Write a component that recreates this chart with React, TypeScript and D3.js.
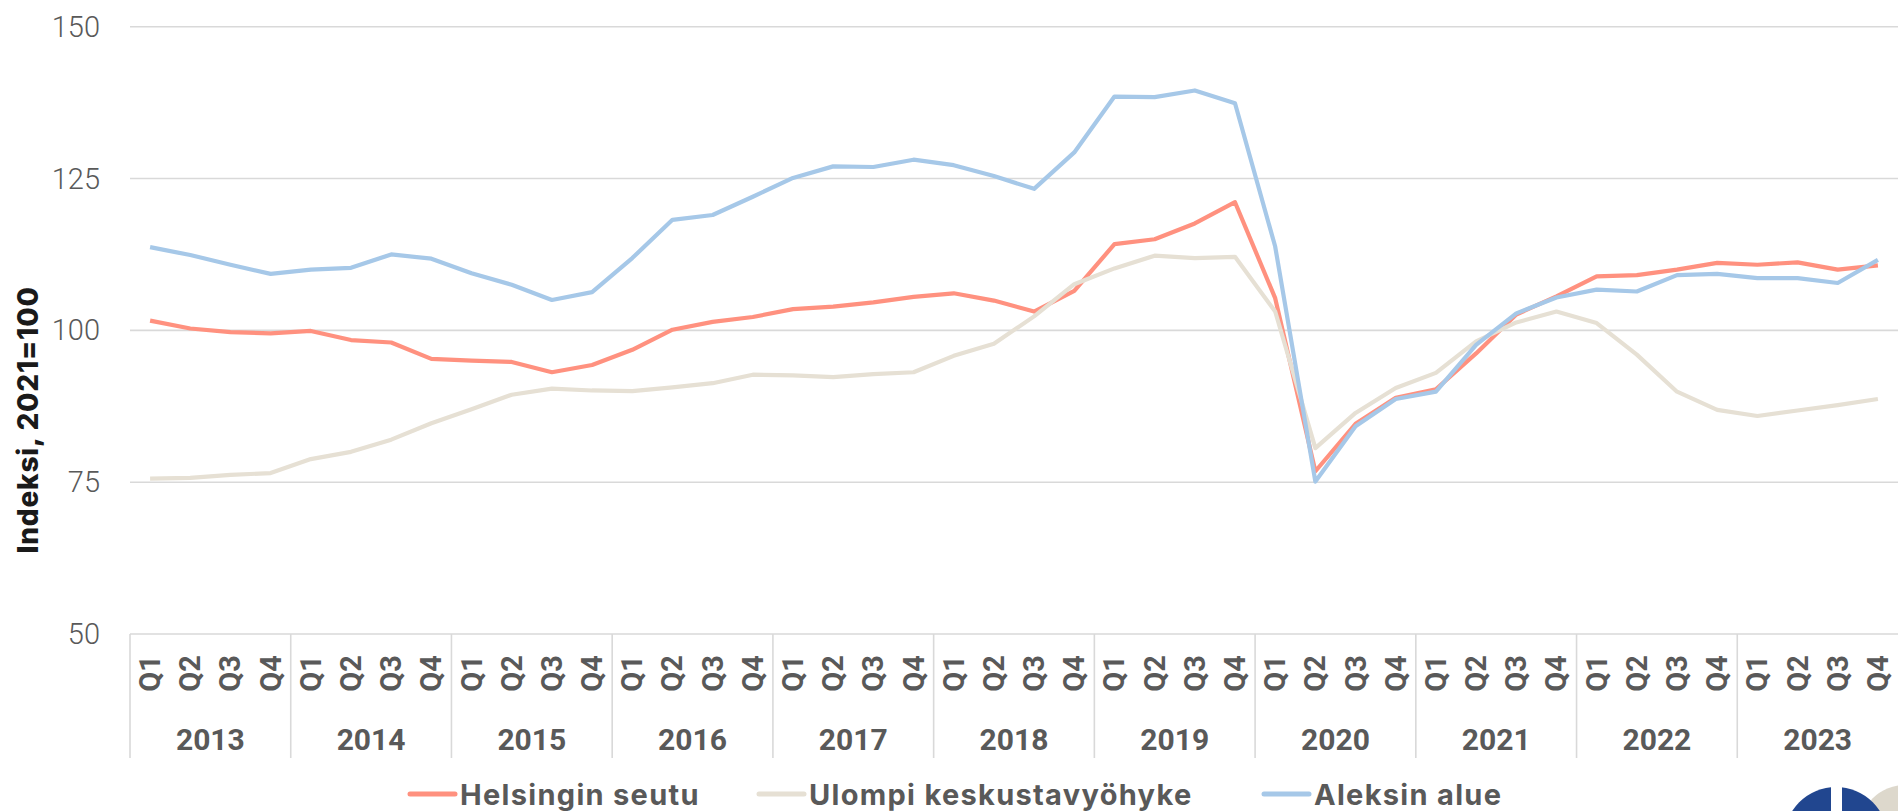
import * as d3 from "d3";

const years = ["2013", "2014", "2015", "2016", "2017", "2018", "2019", "2020", "2021", "2022", "2023"];
const quarters = ["Q1", "Q2", "Q3", "Q4"];
const yTicks = [50, 75, 100, 125, 150];

const helsinki = [
  101.6, 100.3, 99.7, 99.5, 99.9, 98.4, 98.0, 95.3, 95.0, 94.8, 93.1, 94.3,
  96.8, 100.1, 101.4, 102.2, 103.5, 103.9, 104.6, 105.5, 106.1, 104.9, 103.1, 106.5,
  114.2, 115.0, 117.6, 121.1, 105.3, 76.8, 84.6, 88.9, 90.3, 96.2, 102.6, 105.6,
  108.9, 109.1, 110.0, 111.1, 110.8, 111.2, 110.0, 110.7,
];
const ulompi = [
  75.6, 75.7, 76.2, 76.5, 78.8, 80.0, 82.0, 84.7, 87.0, 89.4, 90.4, 90.1,
  90.0, 90.6, 91.3, 92.7, 92.6, 92.3, 92.8, 93.1, 95.8, 97.8, 102.3, 107.6,
  110.2, 112.3, 111.9, 112.1, 103.1, 80.6, 86.4, 90.5, 93.0, 98.2, 101.3, 103.1,
  101.2, 96.0, 89.9, 86.9, 85.9, 86.8, 87.7, 88.7,
];
const aleksi = [
  113.7, 112.4, 110.8, 109.3, 110.0, 110.3, 112.5, 111.8, 109.4, 107.5, 105.0, 106.3,
  111.9, 118.2, 119.0, 122.0, 125.1, 127.0, 126.9, 128.1, 127.2, 125.4, 123.3, 129.3,
  138.5, 138.4, 139.5, 137.4, 113.8, 75.1, 84.2, 88.7, 89.9, 97.6, 102.8, 105.4,
  106.7, 106.4, 109.1, 109.3, 108.6, 108.6, 107.8, 111.6,
];

const series = [
  { name: "Helsingin seutu", values: helsinki, color: "#FF917F" },
  { name: "Ulompi keskustavyöhyke", values: ulompi, color: "#E6E0D4" },
  { name: "Aleksin alue", values: aleksi, color: "#A6C8E8" },
];

const W = 1898;
const H = 811;
const LEFT = 130;
const RIGHT = 1898;
const TOP = 26.7;
const BOTTOM = 634;

const periods = years.flatMap((y) => quarters.map((q) => `${y}-${q}`));

const x = d3.scaleBand<string>().domain(periods).range([LEFT, RIGHT]).padding(0);
const xYear = d3.scaleBand<string>().domain(years).range([LEFT, RIGHT]).padding(0);
const y = d3.scaleLinear().domain([50, 150]).range([BOTTOM, TOP]);

const line = d3
  .line<number>()
  .x((_, i) => (x(periods[i]) ?? 0) + x.bandwidth() / 2)
  .y((d) => y(d));

const grey = "#595959";
const legendX = [408, 757, 1262];

export default function App() {
  return (
    <svg
      width={W}
      height={H}
      style={{ position: "absolute", left: 0, top: 0, display: "block", background: "#fff" }}
    >
      {yTicks.map((t) => (
        <g key={t}>
          <line x1={LEFT} x2={RIGHT} y1={y(t)} y2={y(t)} stroke="#D9D9D9" strokeWidth={1.6} />
          <text
            x={100}
            y={y(t)}
            textAnchor="end"
            dominantBaseline="central"
            fontFamily="Roboto"
            fontWeight={300}
            fontSize={29}
            fill={grey}
          >
            {t}
          </text>
        </g>
      ))}

      <text
        transform={`translate(38, 420) rotate(-90)`}
        textAnchor="middle"
        fontFamily="Inter"
        fontWeight={800}
        fontSize={28}
        letterSpacing={0.8}
        fill="#1a1a1a"
      >
        Indeksi, 2021=100
      </text>

      {years.map((yr) => (
        <line
          key={yr}
          x1={xYear(yr)}
          x2={xYear(yr)}
          y1={BOTTOM}
          y2={758}
          stroke="#D9D9D9"
          strokeWidth={1.6}
        />
      ))}

      {periods.map((p) => (
        <text
          key={p}
          transform={`translate(${(x(p) ?? 0) + x.bandwidth() / 2}, 655) rotate(-90)`}
          textAnchor="end"
          dominantBaseline="central"
          fontFamily="Roboto"
          fontWeight={700}
          fontSize={29}
          fill={grey}
        >
          {p.split("-")[1]}
        </text>
      ))}

      {years.map((yr) => (
        <text
          key={yr}
          x={(xYear(yr) ?? 0) + xYear.bandwidth() / 2}
          y={750}
          textAnchor="middle"
          fontFamily="Roboto"
          fontWeight={700}
          fontSize={30}
          fill={grey}
        >
          {yr}
        </text>
      ))}

      {series.map((s) => (
        <path
          key={s.name}
          d={line(s.values) ?? ""}
          fill="none"
          stroke={s.color}
          strokeWidth={4.2}
          strokeLinejoin="round"
        />
      ))}

      {series.map((s, i) => (
        <g key={s.name} transform={`translate(${legendX[i]}, 794)`}>
          <line x1={2} x2={47} y1={0} y2={0} stroke={s.color} strokeWidth={5} strokeLinecap="round" />
          <text
            x={52}
            y={0}
            dominantBaseline="central"
            fontFamily="Inter"
            fontWeight={700}
            fontSize={29}
            letterSpacing={1.3}
            fill={grey}
          >
            {s.name}
          </text>
        </g>
      ))}

      <circle cx={1905} cy={831} r={46} fill="#DDD8CC" />
      <circle cx={1836} cy={839} r={52} fill="#21468F" />
      <rect x={1831} y={780} width={11} height={40} fill="#fff" />
    </svg>
  );
}
